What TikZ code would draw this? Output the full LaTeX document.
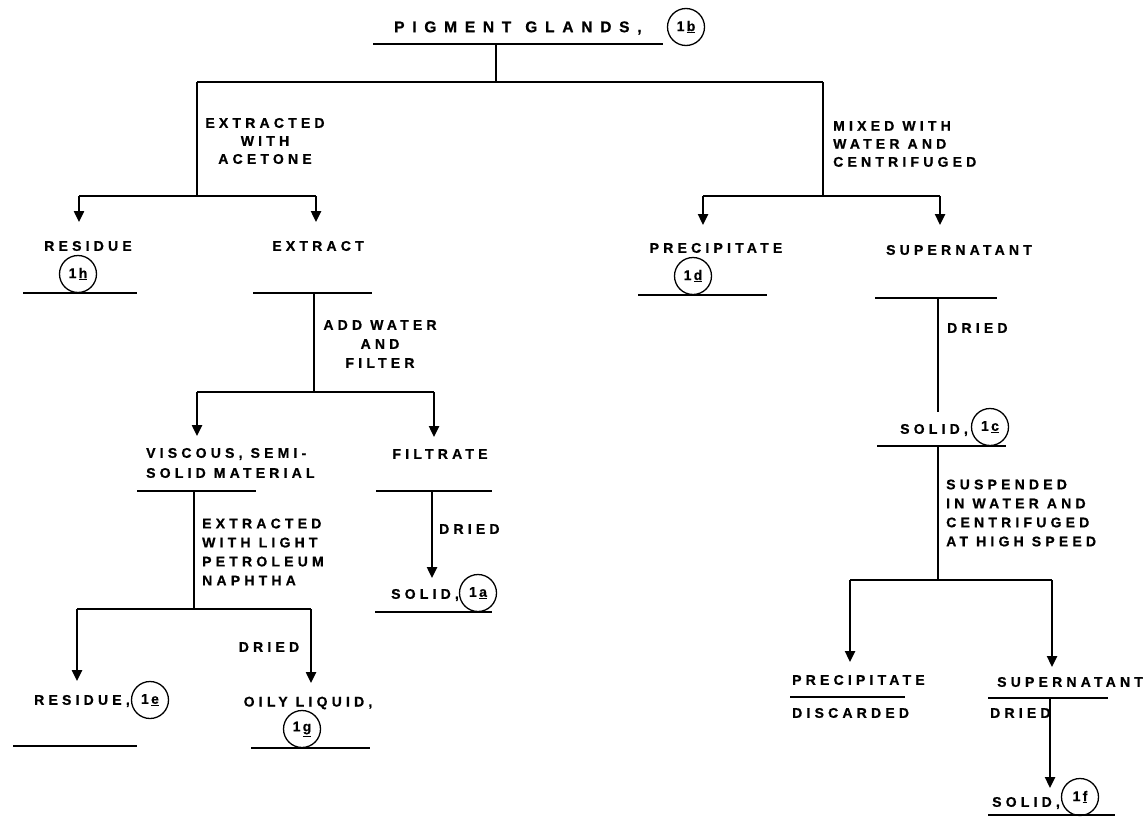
\documentclass[tikz,border=0pt]{standalone}
\usepackage{fontspec}
\setmainfont{Liberation Sans}
\newfontfamily\flowfont[LetterSpace=30,FakeBold=0.8]{Liberation Sans Bold}
\newfontfamily\titlefont[LetterSpace=50,FakeBold=0.8]{Liberation Sans Bold}
\newfontfamily\circfont[FakeBold=0.6]{Liberation Sans Bold}
\usetikzlibrary{arrows.meta}
\newcommand\flowlab{\flowfont\fontsize{14}{19}\selectfont}
\newcommand\flowtitle{\titlefont\fontsize{15.5}{18}\selectfont}
\begin{document}
\begin{tikzpicture}[x=1pt,y=-1pt,line width=2.4pt,
  lab/.style={font=\flowlab,inner sep=0pt},
  ttl/.style={font=\flowtitle,inner sep=0pt},
  circ/.style={draw,circle,line width=1.3pt,minimum size=37pt,inner sep=0pt,font=\circfont\fontsize{14}{14}\selectfont},
  arr/.style={-{Triangle[width=10pt,length=11pt]}}]
\useasboundingbox (0,0) rectangle (1146,819);

% ---- top
\node[ttl,anchor=west] (pg) at (393,28) {PIGMENT\hspace{14pt}GLANDS,};
\node[circ] (c1b) at (686,27) {1\,\underline{b}};
\coordinate (pgL) at (373,44); \coordinate (pgR) at (663,44);
\coordinate (pgJ) at (496,44); \coordinate (b1) at (496,82);
\coordinate (b1L) at (197,82); \coordinate (b1R) at (823,82);
\draw (pgL) -- (pgR);
\draw (pgJ) -- (b1);
\draw (b1L) -- (b1R);

% ---- left branch
\coordinate (b2) at (197,196);
\coordinate (b2L) at (79,196); \coordinate (b2R) at (316,196);
\coordinate (t1) at (79,222); \coordinate (t2) at (316,222);
\draw (b1L) -- (b2);
\draw (b2L) -- (b2R);
\draw[arr] (b2L) -- (t1);
\draw[arr] (b2R) -- (t2);
\node[lab,align=center] (acet) at (265,141) {EXTRACTED\\[-1pt]WITH\\[-1pt]ACETONE};

\node[lab] (res1) at (88,246) {RESIDUE};
\node[circ] (c1h) at (78,274) {1\,\underline{h}};
\coordinate (r1L) at (23,293); \coordinate (r1R) at (137,293);
\draw (r1L) -- (r1R);

\node[lab] (ext) at (318,246) {EXTRACT};
\coordinate (exL) at (253,293); \coordinate (exR) at (372,293);
\coordinate (exJ) at (314,293); \coordinate (b3) at (314,392);
\draw (exL) -- (exR);
\draw (exJ) -- (b3);
\node[lab,align=center] (addw) at (380,344) {ADD WATER\\AND\\FILTER};
\coordinate (b3L) at (197,392); \coordinate (b3R) at (434,392);
\coordinate (t3) at (197,436); \coordinate (t4) at (434,437);
\draw (b3L) -- (b3R);
\draw[arr] (b3L) -- (t3);
\draw[arr] (b3R) -- (t4);

\node[lab,anchor=west,align=left] (visc) at (145,463) {VISCOUS, SEMI-\\[1pt]SOLID MATERIAL};
\coordinate (vsL) at (137,491); \coordinate (vsR) at (256,491);
\coordinate (vsJ) at (194,491); \coordinate (b4) at (194,609);
\draw (vsL) -- (vsR);
\draw (vsJ) -- (b4);
\node[lab,anchor=west,align=left] (petr) at (201,552) {EXTRACTED\\WITH LIGHT\\PETROLEUM\\NAPHTHA};
\coordinate (b4L) at (77,609); \coordinate (b4R) at (311,609);
\coordinate (t5) at (77,681); \coordinate (t6) at (311,683);
\draw (b4L) -- (b4R);
\draw[arr] (b4L) -- (t5);
\draw[arr] (b4R) -- (t6);
\node[lab] (dr1) at (269,647) {DRIED};

\node[lab,anchor=west] (res2) at (33,701) {RESIDUE,};
\node[circ] (c1e) at (150,700) {1\,\underline{e}};
\coordinate (r2L) at (13,746); \coordinate (r2R) at (137,746);
\draw (r2L) -- (r2R);

\node[lab] (oily) at (308,703) {OILY LIQUID,};
\node[circ] (c1g) at (302,729) {1\,\underline{g}};
\coordinate (olL) at (251,748); \coordinate (olR) at (370,748);
\draw (olL) -- (olR);

\node[lab] (filt) at (440,454) {FILTRATE};
\coordinate (fiL) at (376,491); \coordinate (fiR) at (492,491);
\coordinate (fiJ) at (432,491); \coordinate (t7) at (432,578);
\draw (fiL) -- (fiR);
\draw[arr] (fiJ) -- (t7);
\node[lab,anchor=west] (dr2) at (438,529) {DRIED};
\node[lab,anchor=west] (sol1) at (390,595) {SOLID,};
\node[circ] (c1a) at (478,593) {1\,\underline{a}};
\coordinate (s1L) at (375,612); \coordinate (s1R) at (492,612);
\draw (s1L) -- (s1R);

% ---- right branch
\coordinate (b5) at (823,196);
\coordinate (b5L) at (703,196); \coordinate (b5R) at (940,196);
\coordinate (t8) at (703,225); \coordinate (t9) at (940,225);
\draw (b1R) -- (b5);
\draw (b5L) -- (b5R);
\draw[arr] (b5L) -- (t8);
\draw[arr] (b5R) -- (t9);
\node[lab,anchor=west,align=left] (mixd) at (832,144) {MIXED WITH\\[-1pt]WATER AND\\[-1pt]CENTRIFUGED};

\node[lab] (prc1) at (716,248) {PRECIPITATE};
\node[circ] (c1d) at (693,276) {1\,\underline{d}};
\coordinate (p1L) at (638,295); \coordinate (p1R) at (767,295);
\draw (p1L) -- (p1R);

\node[lab] (sup1) at (959,250) {SUPERNATANT};
\coordinate (u1L) at (875,298); \coordinate (u1R) at (997,298);
\coordinate (u1J) at (938,298); \coordinate (u1E) at (938,412);
\draw (u1L) -- (u1R);
\draw (u1J) -- (u1E);
\node[lab,anchor=west] (dr3) at (946,328) {DRIED};

\node[lab,anchor=west] (sol2) at (899,430) {SOLID,};
\node[circ] (c1c) at (990,427) {1\,\underline{c}};
\coordinate (s2L) at (877,446); \coordinate (s2R) at (1006,446);
\coordinate (s2J) at (938,446); \coordinate (b6) at (938,580);
\draw (s2L) -- (s2R);
\draw (s2J) -- (b6);
\node[lab,anchor=west,align=left] (susp) at (945,513) {SUSPENDED\\IN WATER AND\\CENTRIFUGED\\AT HIGH SPEED};
\coordinate (b6L) at (850,580); \coordinate (b6R) at (1052,580);
\coordinate (t10) at (850,662); \coordinate (t11) at (1052,667);
\draw (b6L) -- (b6R);
\draw[arr] (b6L) -- (t10);
\draw[arr] (b6R) -- (t11);

\node[lab,anchor=west] (prc2) at (791,680) {PRECIPITATE};
\coordinate (p2L) at (790,697); \coordinate (p2R) at (905,697);
\draw (p2L) -- (p2R);
\node[lab,anchor=west] (disc) at (791,713) {DISCARDED};

\node[lab,anchor=west] (sup2) at (996,682) {SUPERNATANT};
\coordinate (u2L) at (988,698); \coordinate (u2R) at (1108,698);
\coordinate (u2J) at (1050,698); \coordinate (t12) at (1050,788);
\draw (u2L) -- (u2R);
\draw[arr] (u2J) -- (t12);
\node[lab,anchor=west] (dr4) at (989,713) {DRIED};

\node[lab,anchor=west] (sol3) at (991,803) {SOLID,};
\node[circ] (c1f) at (1080,797) {1\,\underline{f}};
\coordinate (s3L) at (988,815); \coordinate (s3R) at (1115,815);
\draw (s3L) -- (s3R);
\end{tikzpicture}
\end{document}
